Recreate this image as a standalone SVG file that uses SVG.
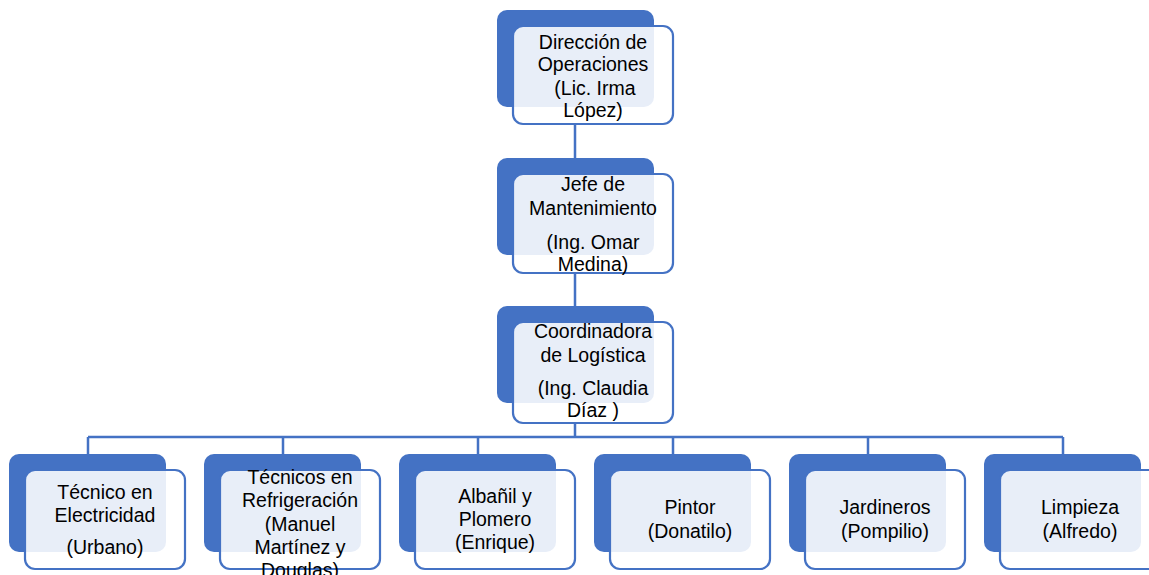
<svg xmlns="http://www.w3.org/2000/svg" width="1149" height="575" viewBox="0 0 1149 575">
<style>
.b{fill:#4472C4;}
.w{fill:#ffffff;fill-opacity:0.88;stroke:#4472C4;stroke-width:2.2;}
.c{fill:none;stroke:#4472C4;stroke-width:2.5;}
text{font-family:"Liberation Sans",Arial,sans-serif;font-size:19.5px;fill:#000;text-anchor:middle;}
</style>
<rect width="1149" height="575" fill="#fff"/>
<g id="connectors">
<path class="c" d="M575,123V158M575,273V306M575,423V437M88,437H1063M88,437V454M283,437V454M478,437V454M673,437V454M868,437V454M1063,437V454"/>
</g>
<g id="n1"><rect class="b" x="497" y="10" width="157" height="97" rx="10"/><rect class="w" x="513" y="26" width="160" height="98" rx="10"/>
<text x="593" y="49">Dirección de</text><text x="593" y="71">Operaciones</text><text x="595" y="95">(Lic. Irma</text><text x="593" y="117">López)</text></g>
<g id="n2"><rect class="b" x="497" y="158" width="157" height="97" rx="10"/><rect class="w" x="513" y="174" width="160" height="99" rx="10"/>
<text x="593" y="191">Jefe de</text><text x="593" y="215">Mantenimiento</text><text x="593" y="249">(Ing. Omar</text><text x="593" y="271">Medina)</text></g>
<g id="n3"><rect class="b" x="497" y="306" width="157" height="97" rx="10"/><rect class="w" x="513" y="322" width="160" height="101" rx="10"/>
<text x="593" y="338">Coordinadora</text><text x="593" y="362">de Logística</text><text x="593" y="395">(Ing. Claudia</text><text x="593" y="417">Díaz )</text></g>
<g id="n4"><rect class="b" x="9" y="454" width="157" height="98" rx="10"/><rect class="w" x="25" y="470" width="160" height="99" rx="10"/>
<text x="105" y="499">Técnico en</text><text x="105" y="522">Electricidad</text><text x="105" y="554">(Urbano)</text></g>
<g id="n5"><rect class="b" x="204" y="454" width="157" height="98" rx="10"/><rect class="w" x="220" y="470" width="160" height="99" rx="10"/>
<text x="300" y="484">Técnicos en</text><text x="300" y="507">Refrigeración</text><text x="300" y="531">(Manuel</text><text x="300" y="554">Martínez y</text><text x="300" y="577">Douglas)</text></g>
<g id="n6"><rect class="b" x="399" y="454" width="157" height="98" rx="10"/><rect class="w" x="415" y="470" width="160" height="99" rx="10"/>
<text x="495" y="503">Albañil y</text><text x="495" y="526">Plomero</text><text x="495" y="549">(Enrique)</text></g>
<g id="n7"><rect class="b" x="594" y="454" width="157" height="98" rx="10"/><rect class="w" x="610" y="470" width="160" height="99" rx="10"/>
<text x="690" y="514">Pintor</text><text x="690" y="538">(Donatilo)</text></g>
<g id="n8"><rect class="b" x="789" y="454" width="157" height="98" rx="10"/><rect class="w" x="805" y="470" width="160" height="99" rx="10"/>
<text x="885" y="514">Jardineros</text><text x="885" y="538">(Pompilio)</text></g>
<g id="n9"><rect class="b" x="984" y="454" width="157" height="98" rx="10"/><rect class="w" x="1000" y="470" width="160" height="99" rx="10"/>
<text x="1080" y="514">Limpieza</text><text x="1080" y="538">(Alfredo)</text></g>
</svg>
